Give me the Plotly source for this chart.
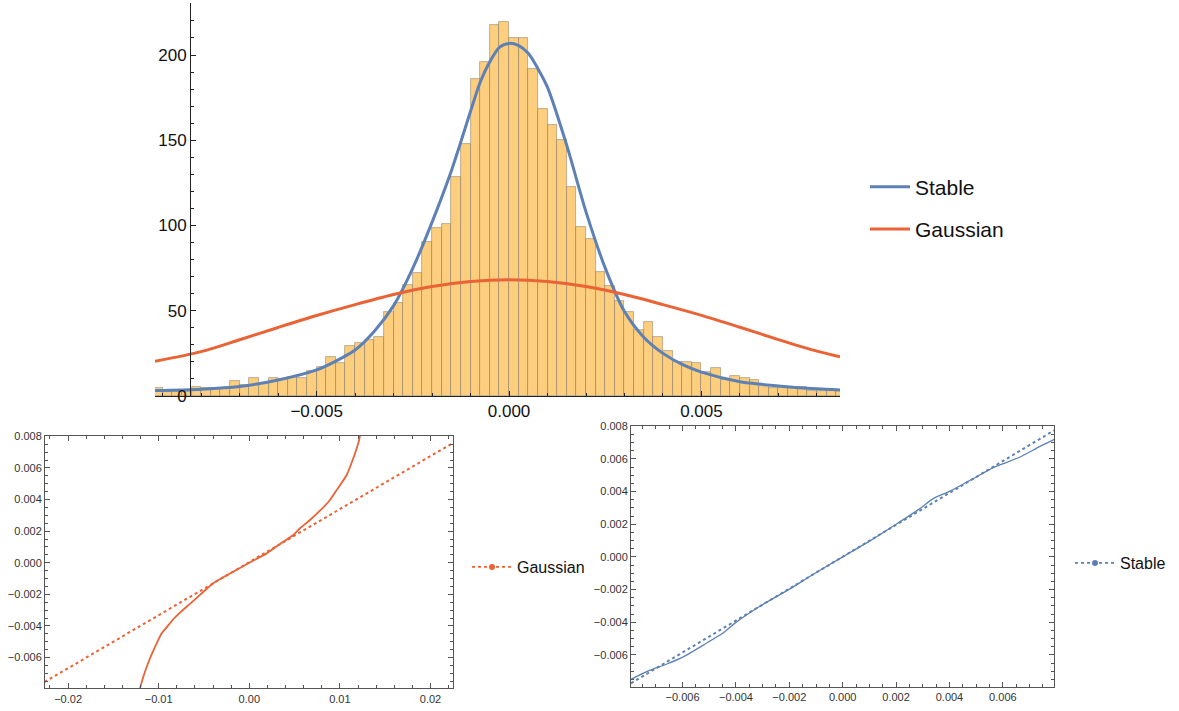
import plotly.graph_objects as go

W, H = 1179, 711

# ---------------- data: top panel ----------------
bin_start = -0.00925
bin_width = 0.00025
hist_heights = [4.5, 2.5, 2.5, 2.5, 5, 4.5, 4.5, 4.5, 9, 6.5, 10.4, 7.4, 10.4, 10, 11.3, 10.4,
                14.8, 16.8, 22.7, 19.5, 29.3, 31.3, 33, 34.4, 49.1, 54.4, 65.1, 72, 90.1, 98.7,
                100.7, 128.3, 147.8, 185.7, 195.7, 217.8, 219.1,
                210.2, 209.8, 191.6, 168.1, 158.9, 150.1, 122.4, 98.9, 92.1, 72.5, 64.7, 55.9,
                49.5, 38.7, 43.6, 34.4, 26.4, 20.1, 19.8, 19.2, 13.8, 16.2, 9.4, 11.7, 10.4, 9.4,
                6.5, 4.7, 4.7, 4.7, 5.3, 3.1, 3.1, 3.1, 3.1]

stable_x = [-0.0092, -0.008, -0.007, -0.006, -0.005, -0.0045, -0.004, -0.0035, -0.003, -0.0025,
            -0.002, -0.0015, -0.001, -0.00075, -0.0005, -0.00025, 0.0, 0.00025, 0.0005, 0.00075,
            0.001, 0.0015, 0.002, 0.0025, 0.003, 0.0035, 0.004, 0.0045, 0.005, 0.006, 0.007,
            0.008, 0.0086]
stable_y = [3.2, 4.0, 5.6, 9.4, 15.3, 20.5, 27, 38, 53, 75, 102, 132, 167, 184, 196, 204.5,
            206.8, 205.5, 201, 192, 181, 147, 108, 75, 49.5, 34.5, 25, 18.5, 14, 8.4, 5.9, 4.2, 3.5]

gauss_x = [-0.0092, -0.008, -0.007, -0.006, -0.005, -0.004, -0.003, -0.002, -0.001, 0.0,
           0.001, 0.002, 0.003, 0.004, 0.005, 0.006, 0.007, 0.008, 0.0086]
gauss_y = [20.3, 26, 33, 40.2, 47.2, 53.6, 59.5, 64.2, 67.2, 68.2,
           67.2, 64.2, 59.5, 53.6, 47.3, 40.3, 33.1, 26.3, 23]

# ---------------- data: Gaussian QQ (bottom left) ----------------
gauss_qq_x = [-0.01206, -0.0117, -0.01096, -0.01022, -0.00967, -0.00912, -0.00839, -0.00765,
              -0.00655, -0.00544, -0.00397, -0.00177, 0.0, 0.00192, 0.00375, 0.00486, 0.0056,
              0.0067, 0.0078, 0.00891, 0.00965, 0.01075, 0.01148, 0.01203, 0.01222]
gauss_qq_y = [-0.00795, -0.00722, -0.00605, -0.0051, -0.00447, -0.00409, -0.00358, -0.00316,
              -0.00261, -0.00204, -0.0013, -0.00057, 0.0, 0.00059, 0.00133, 0.00175, 0.00218,
              0.0027, 0.00329, 0.00397, 0.0046, 0.00555, 0.00661, 0.00756, 0.00802]
gauss_ref_x = [-0.0226, 0.0226]
gauss_ref_y = [-0.00755, 0.00762]

# ---------------- data: Stable QQ (bottom right) ----------------
stable_qq_x = [-0.00793, -0.00734, -0.00659, -0.00597, -0.00522, -0.00447, -0.004, -0.0031,
               -0.00201, -0.0011, 0.0, 0.00102, 0.002, 0.00289, 0.00339, 0.004, 0.00489,
               0.00564, 0.00601, 0.00664, 0.00739, 0.00793]
stable_qq_y = [-0.0075, -0.00703, -0.00656, -0.00612, -0.0054, -0.00465, -0.00401, -0.00302,
               -0.00199, -0.00106, 0.0, 0.00098, 0.002, 0.00296, 0.00357, 0.00402, 0.0048,
               0.00547, 0.00571, 0.00612, 0.00677, 0.0072]
stable_ref_x = [-0.00793, 0.00793]
stable_ref_y = [-0.00774, 0.00776]

BLUE = "#5E81B5"
RED = "#EB6235"
BAR = "#FCCE7E"
FONT = "Liberation Sans, Arial, sans-serif"

def px(x):
    return x / W

def py(y):
    return 1 - y / H

fig = go.Figure()

# histogram bars
fig.add_trace(go.Bar(
    x0=bin_start + bin_width / 2, dx=bin_width, y=hist_heights, width=bin_width,
    marker=dict(color=BAR, line=dict(color="rgba(110,100,80,0.55)", width=0.8)),
    showlegend=False, xaxis="x", yaxis="y", hoverinfo="skip"))

fig.add_trace(go.Scatter(x=stable_x, y=stable_y, mode="lines", name="Stable",
                         line=dict(color=BLUE, width=3, shape="spline", smoothing=0.8),
                         xaxis="x", yaxis="y", legend="legend", legendgroup="a"))
fig.add_trace(go.Scatter(x=gauss_x, y=gauss_y, mode="lines", name="Gaussian",
                         line=dict(color=RED, width=3, shape="spline", smoothing=0.8),
                         xaxis="x", yaxis="y", legend="legend", legendgroup="b"))

# Gaussian QQ
fig.add_trace(go.Scatter(x=gauss_ref_x, y=gauss_ref_y, mode="lines",
                         line=dict(color=RED, width=2, dash="dot"),
                         xaxis="x2", yaxis="y2", showlegend=False))
fig.add_trace(go.Scatter(x=gauss_qq_x, y=gauss_qq_y, mode="lines",
                         line=dict(color=RED, width=1.8, shape="spline", smoothing=0.6),
                         xaxis="x2", yaxis="y2", showlegend=False))
fig.add_trace(go.Scatter(x=[None], y=[None], mode="lines+markers", name="Gaussian",
                         line=dict(color=RED, width=1.6, dash="dot"),
                         marker=dict(color=RED, size=6),
                         xaxis="x2", yaxis="y2", legend="legend2"))

# Stable QQ
fig.add_trace(go.Scatter(x=stable_ref_x, y=stable_ref_y, mode="lines",
                         line=dict(color=BLUE, width=2, dash="dot"),
                         xaxis="x3", yaxis="y3", showlegend=False))
fig.add_trace(go.Scatter(x=stable_qq_x, y=stable_qq_y, mode="lines",
                         line=dict(color=BLUE, width=1.3, shape="spline", smoothing=0.6),
                         xaxis="x3", yaxis="y3", showlegend=False))
fig.add_trace(go.Scatter(x=[None], y=[None], mode="lines+markers", name="Stable",
                         line=dict(color=BLUE, width=1.6, dash="dot"),
                         marker=dict(color=BLUE, size=6),
                         xaxis="x3", yaxis="y3", legend="legend3"))

tick_font_big = dict(family=FONT, size=17, color="#111")
tick_font_small = dict(family=FONT, size=11, color="#333")

frame_common = dict(showline=True, linecolor="#555", linewidth=1, mirror="allticks",
                    ticks="inside", ticklen=5, tickcolor="#555", showgrid=False,
                    zeroline=False, tickfont=tick_font_small, automargin=False)

fig.update_layout(
    width=W, height=H, margin=dict(l=0, r=0, t=0, b=0, autoexpand=False),
    paper_bgcolor="white", plot_bgcolor="rgba(0,0,0,0)",
    bargap=0,
    font=dict(family=FONT),
    xaxis=dict(domain=[px(155), px(840)], range=[-0.0092, 0.0086], anchor="y",
               showline=True, linecolor="#222", linewidth=1, ticks="inside", ticklen=5,
               tickcolor="#222", tickmode="linear", tick0=0, dtick=0.005, tickformat=".3f",
               minor=dict(dtick=0.001, tick0=0, ticks="inside", ticklen=3, tickcolor="#222"),
               showgrid=False, zeroline=False, tickfont=tick_font_big, automargin=False),
    yaxis=dict(domain=[py(396), py(3)], range=[0, 230.5], anchor="free", position=px(190),
               showline=True, linecolor="#222", linewidth=1, ticks="inside", ticklen=5,
               tickcolor="#222", tickmode="linear", tick0=0, dtick=50,
               minor=dict(dtick=10, tick0=0, ticks="inside", ticklen=3, tickcolor="#222"),
               showgrid=False, zeroline=False, tickfont=tick_font_big, automargin=False),
    xaxis2=dict(domain=[px(45), px(453.3)], range=[-0.02255, 0.02252], anchor="y2",
                tickmode="linear", tick0=0, dtick=0.01, tickformat=".2f",
                minor=dict(dtick=0.002, tick0=0, ticks="inside", ticklen=3, tickcolor="#555"),
                **frame_common),
    yaxis2=dict(domain=[py(688.3), py(436)], range=[-0.00795, 0.00802], anchor="x2",
                tickmode="linear", tick0=0, dtick=0.002, tickformat=".3f",
                minor=dict(dtick=0.0005, tick0=0, ticks="inside", ticklen=3, tickcolor="#555"),
                **frame_common),
    xaxis3=dict(domain=[px(631), px(1054.4)], range=[-0.00793, 0.00793], anchor="y3",
                tickmode="linear", tick0=0, dtick=0.002, tickformat=".3f",
                minor=dict(dtick=0.0005, tick0=0, ticks="inside", ticklen=3, tickcolor="#555"),
                **frame_common),
    yaxis3=dict(domain=[py(686.7), py(426)], range=[-0.00795, 0.00802], anchor="x3",
                tickmode="linear", tick0=0, dtick=0.002, tickformat=".3f",
                minor=dict(dtick=0.0005, tick0=0, ticks="inside", ticklen=3, tickcolor="#555"),
                **frame_common),
    legend=dict(x=px(865), y=py(208), xanchor="left", yanchor="middle",
                font=dict(family=FONT, size=21, color="#111"), itemwidth=40,
                tracegroupgap=12, bgcolor="rgba(0,0,0,0)"),
    legend2=dict(x=px(467), y=py(567), xanchor="left", yanchor="middle",
                 font=dict(family=FONT, size=16, color="#111"), itemwidth=40,
                 bgcolor="rgba(0,0,0,0)"),
    legend3=dict(x=px(1070), y=py(563), xanchor="left", yanchor="middle",
                 font=dict(family=FONT, size=16, color="#111"), itemwidth=40,
                 bgcolor="rgba(0,0,0,0)"),
)

fig.write_html("out.html")
